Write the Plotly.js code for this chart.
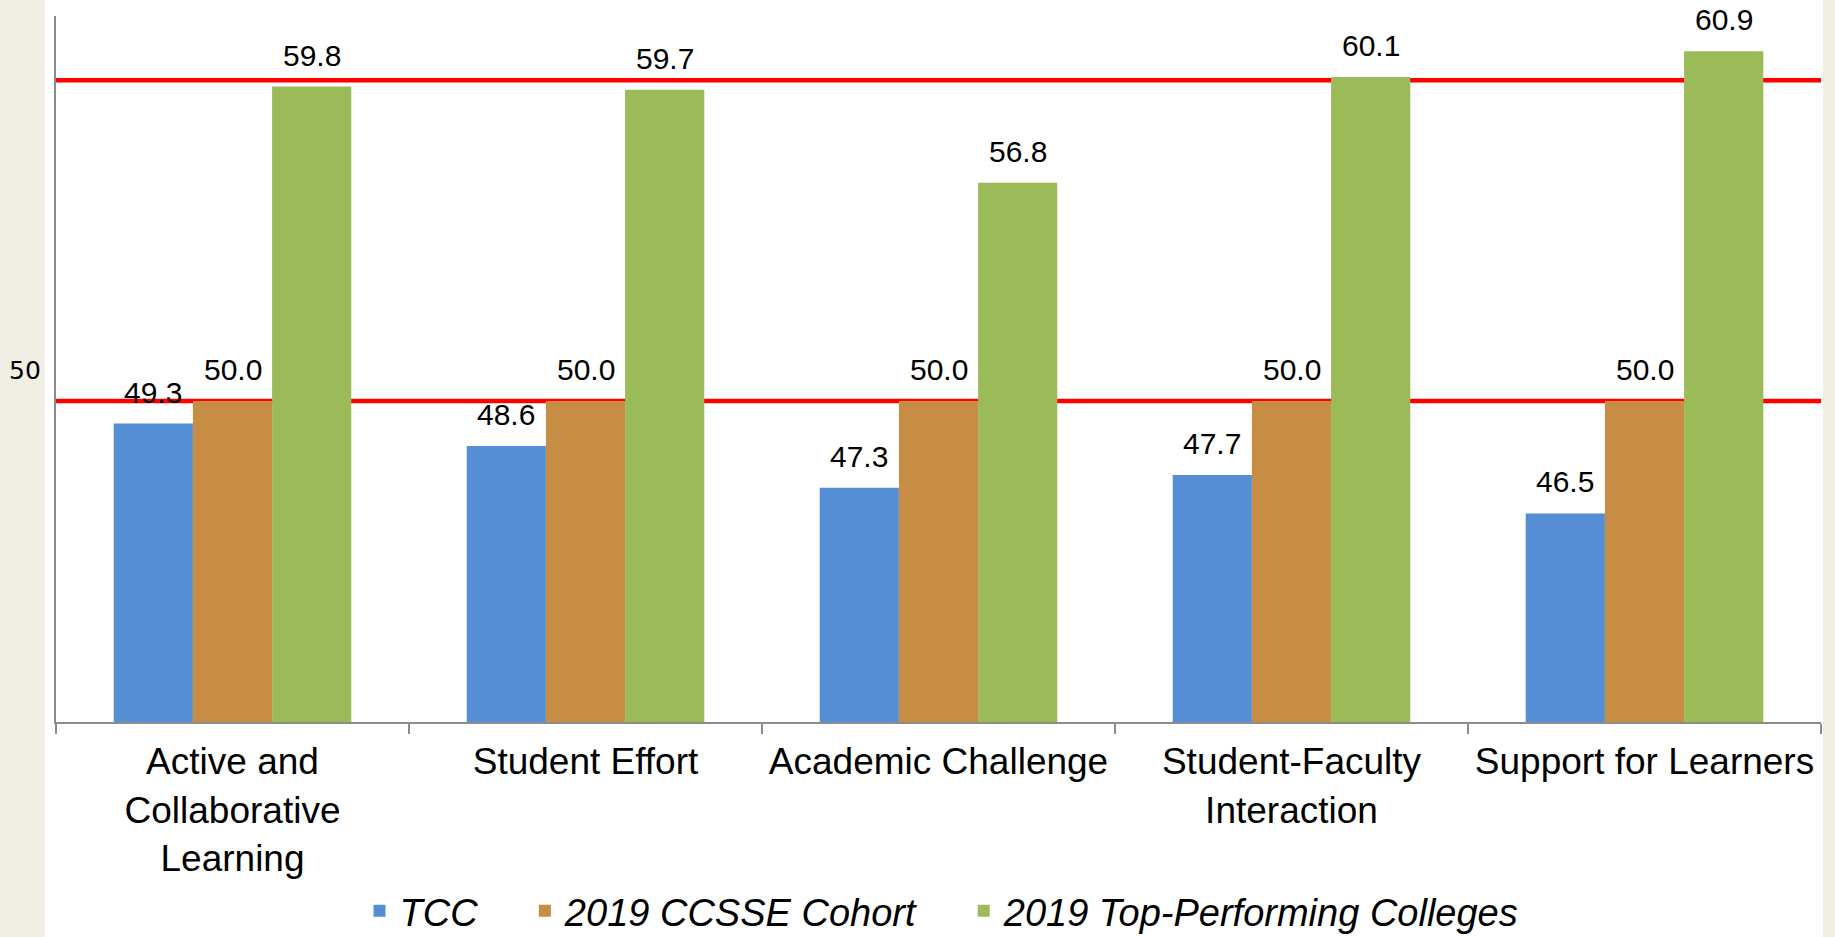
<!DOCTYPE html>
<html>
<head>
<meta charset="utf-8">
<script src="https://cdn.plot.ly/plotly-3.0.1.min.js"></script>
<style>
  html, body { margin: 0; padding: 0; background: #F1EEE3; }
  #wrap { position: relative; width: 1835px; height: 937px; }
  #white { position: absolute; left: 45px; top: 0; width: 1778px; height: 937px; background: #FFFFFF; }
  #chart { position: absolute; left: 0; top: 0; width: 1835px; height: 937px; }
</style>
</head>
<body>
<div id="wrap">
  <div id="white"></div>
  <div id="chart"></div>
</div>
<script>
// ---- data ----
const categories = [
  "Active and<br>Collaborative<br>Learning",
  "Student Effort",
  "Academic Challenge",
  "Student-Faculty<br>Interaction",
  "Support for Learners"
];
const seriesNames = ["TCC", "2019 CCSSE Cohort", "2019 Top-Performing Colleges"];
const tccValues = [49.3, 48.6, 47.3, 47.7, 46.5];
const cohortValues = [50.0, 50.0, 50.0, 50.0, 50.0];
const topValues = [59.8, 59.7, 56.8, 60.1, 60.9];
const referenceLines = [50, 60];
const yTickLabel = "50";

// ---- style ----
const colors = ["#558ED5", "#C88D45", "#9BBB59"];
const allValues = [tccValues, cohortValues, topValues];
const BARGAP = 0.327;
const FONT = "Liberation Sans, Arial, sans-serif";
const legendPad = ["&nbsp;&nbsp;&nbsp;&nbsp;", "&nbsp;&nbsp;&nbsp;&nbsp;", ""];

const traces = allValues.map((vals, i) => ({
  type: "bar",
  name: "<i>" + seriesNames[i] + "</i>" + legendPad[i],
  x: categories,
  y: vals,
  marker: { color: colors[i], line: { width: 0 } },
  hoverinfo: "skip"
}));

// value labels placed over each bar via the category axis' index scale
const nSeries = allValues.length;
const barW = (1 - BARGAP) / nSeries;
const labelAnnotations = [];
allValues.forEach((vals, s) => {
  vals.forEach((v, c) => {
    labelAnnotations.push({
      xref: "x", yref: "y",
      x: c + (s - (nSeries - 1) / 2) * barW,
      y: v,
      yanchor: "bottom", xanchor: "center",
      yshift: 13,
      text: v.toFixed(1),
      showarrow: false,
      font: { family: FONT, size: 30, color: "#000000" }
    });
  });
});

const shapes = referenceLines.map(v => ({
  type: "line", xref: "paper", yref: "y",
  x0: 0, x1: 1, y0: v, y1: v,
  line: { color: "#FF0000", width: 4.5 },
  layer: "below"
}));

const layout = {
  width: 1835, height: 937,
  margin: { l: 56, r: 14, t: 16, b: 215 },
  paper_bgcolor: "rgba(0,0,0,0)",
  plot_bgcolor: "rgba(0,0,0,0)",
  barmode: "group",
  bargap: BARGAP,
  bargroupgap: 0,
  font: { family: FONT, color: "#000000" },
  xaxis: {
    type: "category",
    showline: true, linecolor: "#8C8C8C", linewidth: 2,
    ticks: "outside", tickson: "boundaries", ticklen: 10, tickcolor: "#8C8C8C", tickwidth: 2,
    ticklabelstandoff: 6,
    tickfont: { family: FONT, size: 37, color: "#000000" },
    showgrid: false, zeroline: false, tickangle: 0
  },
  yaxis: {
    range: [40, 62],
    showline: true, linecolor: "#8C8C8C", linewidth: 2,
    showticklabels: false, ticks: "", showgrid: false, zeroline: false
  },
  shapes: shapes,
  annotations: labelAnnotations.concat([{
    xref: "paper", yref: "y",
    x: (43 - 56) / 1765, y: referenceLines[0],
    yshift: 31,
    xanchor: "right", yanchor: "middle",
    text: yTickLabel, showarrow: false,
    font: { family: "DejaVu Sans, sans-serif", size: 25, color: "#000000" }
  }]),
  showlegend: true,
  legend: {
    orientation: "h",
    xref: "paper", yref: "container",
    x: 0.502, xanchor: "center",
    y: (937 - 911) / 937, yanchor: "middle",
    font: { family: FONT, size: 38, color: "#000000" },
    itemwidth: 30,
    bgcolor: "rgba(0,0,0,0)"
  }
};

Plotly.newPlot("chart", traces, layout, { displayModeBar: false, staticPlot: true });
</script>
</body>
</html>
